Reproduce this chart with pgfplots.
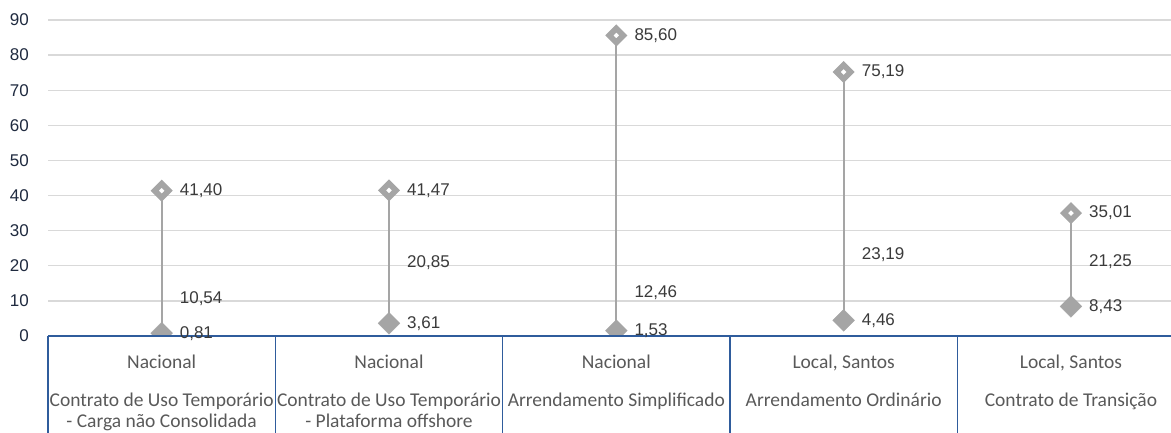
\documentclass[border=0pt]{standalone}
\usepackage{pgfplots}
\pgfplotsset{compat=1.18}
\usepackage{pgfplotstable}
\usepackage{fontspec}
\setmainfont{Liberation Sans}
\newfontfamily\catfont{Carlito}
\definecolor{gridc}{HTML}{D9D9D9}
\definecolor{mk}{HTML}{A5A5A5}
\definecolor{axblue}{HTML}{2F5C9C}
\definecolor{lbl}{HTML}{3A3A3A}
\definecolor{catc}{HTML}{595959}
\definecolor{tickc}{HTML}{1F2A3F}

\pgfplotstableread{
x hi mid lo hl ml ll
0 41.40 10.54 0.81 41,40 10,54 0,81
1 41.47 20.85 3.61 41,47 20,85 3,61
2 85.60 12.46 1.53 85,60 12,46 1,53
3 75.19 23.19 4.46 75,19 23,19 4,46
4 35.01 21.25 8.43 35,01 21,25 8,43
}\data

\begin{document}
\begin{tikzpicture}[x=1pt,y=1pt]
\clip (0,0) rectangle (1171,432);
\pgfplotsset{base/.style={at={(48pt,96pt)}, anchor=south west, scale only axis,
  width=1123pt, height=316pt, xmin=-0.5, xmax=4.44, ymin=0, ymax=90}}
\begin{axis}[base,
  axis line style={draw=none}, major tick length=0pt,
  xtick=\empty, ytick={0,10,...,90},
  ymajorgrids, grid style={draw=gridc, line width=1.3pt},
  yticklabel style={anchor=east, inner sep=0pt, xshift=-19pt, text=tickc,
    font=\fontsize{17}{17}\selectfont},
  /pgf/number format/assume math mode=true,
  clip=true, clip marker paths=true]
\addplot[mk, line width=1.8pt] coordinates {(0,0.81) (0,41.40)};
\addplot[mk, line width=1.8pt] coordinates {(1,3.61) (1,41.47)};
\addplot[mk, line width=1.8pt] coordinates {(2,1.53) (2,85.60)};
\addplot[mk, line width=1.8pt] coordinates {(3,4.46) (3,75.19)};
\addplot[mk, line width=1.8pt] coordinates {(4,8.43) (4,35.01)};
\addplot[mk, only marks, mark=square*, mark size=7.8pt,
  mark options={rotate=45, fill=mk, draw=mk, line width=0.1pt}] table[x=x, y=lo] {\data};
\addplot[mk, only marks, mark=square*, mark size=4.95pt,
  mark options={rotate=45, fill=white, draw=mk, line width=5.7pt, line join=miter}] table[x=x, y=hi] {\data};
\end{axis}
\begin{axis}[base, hide axis, clip=false,
  nodes near coords style={anchor=west, inner sep=0pt, xshift=18pt, text=lbl,
    font=\fontsize{17}{17}\selectfont}]
\addplot[only marks, mark=none, nodes near coords, point meta=explicit symbolic]
  table[x=x, y=hi, meta=hl] {\data};
\addplot[only marks, mark=none, nodes near coords, point meta=explicit symbolic]
  table[x=x, y=mid, meta=ml] {\data};
\addplot[only marks, mark=none, nodes near coords, point meta=explicit symbolic]
  table[x=x, y=lo, meta=ll] {\data};
\draw[axblue, line width=1.6pt] (axis cs:-0.5,0) -- (axis cs:4.44,0);
\draw[axblue, line width=1.6pt] (axis cs:-0.5,0) -- ([yshift=-100pt]axis cs:-0.5,0);
\draw[axblue, line width=1.6pt] (axis cs:0.5,0) -- ([yshift=-100pt]axis cs:0.5,0);
\draw[axblue, line width=1.6pt] (axis cs:1.5,0) -- ([yshift=-100pt]axis cs:1.5,0);
\draw[axblue, line width=1.6pt] (axis cs:2.5,0) -- ([yshift=-100pt]axis cs:2.5,0);
\draw[axblue, line width=1.6pt] (axis cs:3.5,0) -- ([yshift=-100pt]axis cs:3.5,0);
\begin{scope}[every node/.style={text=catc, inner sep=0pt, anchor=base,
    font=\catfont\fontsize{19.5}{19.5}\selectfont}]
\node at ([yshift=-32pt]axis cs:0,0) {Nacional};
\node at ([yshift=-32pt]axis cs:1,0) {Nacional};
\node at ([yshift=-32pt]axis cs:2,0) {Nacional};
\node at ([yshift=-32pt]axis cs:3,0) {Local, Santos};
\node at ([yshift=-32pt]axis cs:4,0) {Local, Santos};
\node at ([yshift=-70pt]axis cs:0,0) {Contrato de Uso Temporário};
\node at ([yshift=-70pt]axis cs:1,0) {Contrato de Uso Temporário};
\node at ([yshift=-70pt]axis cs:2,0) {Arrendamento Simplificado};
\node at ([yshift=-70pt]axis cs:3,0) {Arrendamento Ordinário};
\node at ([yshift=-70pt]axis cs:4,0) {Contrato de Transição};
\node at ([yshift=-91pt]axis cs:0,0) {- Carga não Consolidada};
\node at ([yshift=-91pt]axis cs:1,0) {- Plataforma offshore};
\end{scope}
\end{axis}
\end{tikzpicture}
\end{document}
